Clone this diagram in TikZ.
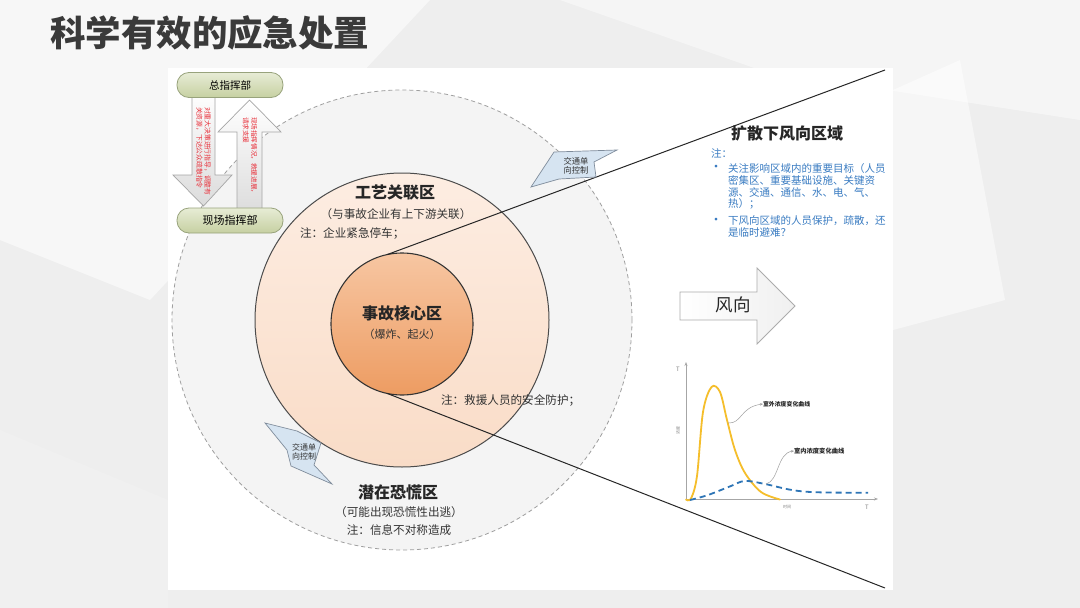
\documentclass[tikz,border=0pt]{standalone}
\usepackage{fontspec}
\setmainfont{Noto Sans CJK SC}
\usetikzlibrary{arrows.meta}
\definecolor{bgbase}{HTML}{EEEEEE}
\definecolor{titlec}{HTML}{3A3A3A}
\definecolor{outerfill}{HTML}{F4F4F4}
\definecolor{midtop}{HTML}{FDEDE2}
\definecolor{midbot}{HTML}{F9DCC7}
\definecolor{coretop}{HTML}{F7C6A2}
\definecolor{corebot}{HTML}{ED9C62}
\definecolor{boxtop}{HTML}{E7ECD5}
\definecolor{boxbot}{HTML}{C6D0A2}
\definecolor{boxline}{HTML}{98A37C}
\definecolor{redtxt}{HTML}{E8303A}
\definecolor{bluetxt}{HTML}{3A7CC2}
\definecolor{trfill}{HTML}{D6E4F1}
\definecolor{trline}{HTML}{7F8C9B}
\definecolor{ycol}{HTML}{F5BE2B}
\definecolor{bcol}{HTML}{2E75B6}
\begin{document}
\begin{tikzpicture}[x=1pt,y=-1pt,
  every node/.style={inner sep=0pt,outer sep=0pt},
  cmdbox/.style={draw=boxline,line width=0.8pt,rounded corners=12pt,minimum width=106pt,minimum height=25pt,top color=boxtop,bottom color=boxbot,font=\fontsize{10.5}{12}\selectfont},
  cmdarrow/.style={draw=gray!70,line width=0.7pt,top color=white,bottom color=gray!28},
  redlabel/.style={text=redtxt,font=\fontsize{6.8}{8.3}\selectfont,rotate=-90,align=left,anchor=west},
  trarrow/.style={draw=trline,line width=0.7pt,fill=trfill},
  trtext/.style={font=\fontsize{8.3}{9.6}\selectfont,align=center,text=black!80},
  zonetitle/.style={font=\fontsize{16}{18}\selectfont\bfseries,text=black!85},
  zonetext/.style={font=\fontsize{11.6}{13}\selectfont,text=black!80},
  bluetext/.style={font=\fontsize{10.5}{12}\selectfont,text=bluetxt,anchor=west},
  bulletmark/.style={font=\fontsize{13}{13}\selectfont,text=bluetxt},
  wedge/.style={draw=black!85,line width=1pt},
  axis/.style={draw=gray!70,line width=0.7pt,-{Stealth[length=4pt,width=3pt]}},
  callout/.style={draw=gray!75,line width=0.5pt,-{Stealth[length=3pt,width=2.4pt]}},
  tiny/.style={font=\fontsize{5.9}{7}\selectfont\bfseries,text=black!85,anchor=west}
]
\useasboundingbox (0,0) rectangle (1080,608);
% slide background
\fill[bgbase] (0,0) rectangle (1080,608);
\fill[white,opacity=0.55] (0,0) -- (430,0) -- (150,300) -- (0,240) -- cycle;
\fill[white,opacity=0.45] (560,0) -- (1080,0) -- (1080,120) -- (760,70) -- cycle;
\fill[white,opacity=0.5] (893,90) -- (960,60) -- (1005,300) -- (893,330) -- cycle;
\fill[black!5,opacity=0.6] (0,430) -- (168,500) -- (168,608) -- (0,608) -- cycle;
% title
\node[anchor=west,text=titlec,font=\fontsize{35.5}{38}\selectfont\bfseries] (title) at (50,33) {科学有效的应急处置};
% white panel
\fill[white] (168,68) rectangle (893,590);
% zones
\node[circle,draw=gray!75,dash pattern=on 4pt off 3pt,line width=0.8pt,fill=outerfill,minimum size=460pt] (outer) at (402,320) {};
\node[circle,draw=black!70,line width=1pt,top color=midtop,bottom color=midbot,minimum size=294pt] (mid) at (402,320) {};
\node[circle,draw=black!80,line width=1.1pt,top color=coretop,bottom color=corebot,minimum size=142pt] (core) at (402,324) {};
% downwind wedge
\coordinate (ut) at (885,70);
\coordinate (lt) at (885,588);
\draw[wedge] (core.102) -- (ut);
\draw[wedge] (core.258) -- (lt);
% zone texts
\node[zonetitle] (t1) at (395,193) {工艺关联区};
\node[zonetext] (t1a) at (396,214) {（与事故企业有上下游关联）};
\node[zonetext,anchor=west] (t1b) at (300,234) {注：企业紧急停车；};
\node[zonetitle] (t2) at (402,313) {事故核心区};
\node[zonetext,font=\fontsize{11}{13}\selectfont] (t2a) at (402,334) {（爆炸、起火）};
\node[zonetext,anchor=west] (t2b) at (441,400) {注：救援人员的安全防护；};
\node[zonetitle] (t3) at (398,492) {潜在恐慌区};
\node[zonetext] (t3a) at (399,512) {（可能出现恐慌性出逃）};
\node[zonetext] (t3b) at (399,530) {注：信息不对称造成};
% traffic control arrows
\draw[trarrow] (531,187) -- (554,152) -- (617,150) -- (594,162) -- (596,177) -- (559,179) -- cycle;
\node[trtext] (tr1) at (576,166) {交通单\\向控制};
\draw[trarrow] (265,423) -- (297,431) -- (321,443) -- (314,465) -- (332,484) -- (291,466) -- (287,450) -- cycle;
\node[trtext,font=\fontsize{8}{9.4}\selectfont] (tr2) at (304,452) {交通单\\向控制};
% command arrows
\draw[cmdarrow] (192,90) -- (215,90) -- (215,175) -- (232,175) -- (203.5,206) -- (173,175) -- (192,175) -- cycle;
\draw[cmdarrow] (237,215) -- (262,215) -- (262,132) -- (281,132) -- (249.5,100) -- (218,132) -- (237,132) -- cycle;
\node[redlabel] (dl) at (203.5,107) {对重大决策进行指导，调整有\\关资源，下达公众疏散指令};
\node[redlabel,font=\fontsize{6.6}{8.3}\selectfont] (ul) at (250,117) {现场指挥情况，救援进展，\\请求支援};
% command boxes
\node[cmdbox] (hq) at (230,85) {总指挥部};
\node[cmdbox,font=\fontsize{11}{12}\selectfont] (field) at (230,220.5) {现场指挥部};
% downwind area text
\node[zonetitle] (dw) at (787,133) {扩散下风向区域};
\node[bluetext] (note) at (711,153) {注：};
\node[bulletmark] (b1) at (716,168.3) {•};
\node[bluetext] (l1) at (728,168.3) {关注影响区域内的重要目标（人员};
\node[bluetext] (l2) at (728,180.3) {密集区、重要基础设施、关键资};
\node[bluetext] (l3) at (728,192.2) {源、交通、通信、水、电、气、};
\node[bluetext] (l4) at (728,204.2) {热）；};
\node[bulletmark] (b2) at (716,221) {•};
\node[bluetext] (l5) at (728,221) {下风向区域的人员保护，疏散，还};
\node[bluetext] (l6) at (728,232.5) {是临时避难？};
% wind arrow
\draw[draw=gray!65,line width=0.8pt,left color=white,right color=gray!12] (680,292) -- (757,292) -- (757,268) -- (795,306) -- (757,344) -- (757,320) -- (680,320) -- cycle;
\node[font=\fontsize{17.5}{20}\selectfont,text=black!85] (wind) at (733,305) {风向};
% chart
\coordinate (O) at (686,499);
\coordinate (yt) at (686,362);
\coordinate (xt) at (878,499);
\draw[axis] (O) -- (yt);
\draw[axis] (O) -- (xt);
\node[font=\fontsize{6}{7}\selectfont,text=gray] (tY) at (678,369) {T};
\node[font=\fontsize{6}{7}\selectfont,text=gray] (tX) at (867,507) {T};
\node[font=\fontsize{4}{5}\selectfont,text=gray,rotate=90] (cY) at (678,430) {浓度};
\node[font=\fontsize{4}{5}\selectfont,text=gray] (cX) at (787,507) {时间};
\draw[ycol,line width=1.8pt,line cap=round] plot[smooth,tension=0.55] coordinates {(686,499.5) (691,498.5) (697,476) (703,412) (711.5,387) (720,392) (727,420) (735,450) (745,473) (761,492) (780,499.5)};
\draw[bcol,line width=1.8pt,dash pattern=on 6pt off 4pt] plot[smooth,tension=0.6] coordinates {(690,500) (708,495) (731,486) (745,481) (765,484) (792,490) (818,492.3) (868,492.7)};
\node[tiny] (lo) at (763,404) {室外浓度变化曲线};
\node[tiny,font=\fontsize{6.3}{7}\selectfont\bfseries] (li) at (794,451) {室内浓度变化曲线};
\coordinate (co1) at (728,423);
\coordinate (co2) at (766,484);
\draw[callout] (co1) .. controls (742,424) and (740,407) .. (lo.west);
\draw[callout] (co2) .. controls (779,481) and (777,453) .. (li.west);
\end{tikzpicture}
\end{document}
